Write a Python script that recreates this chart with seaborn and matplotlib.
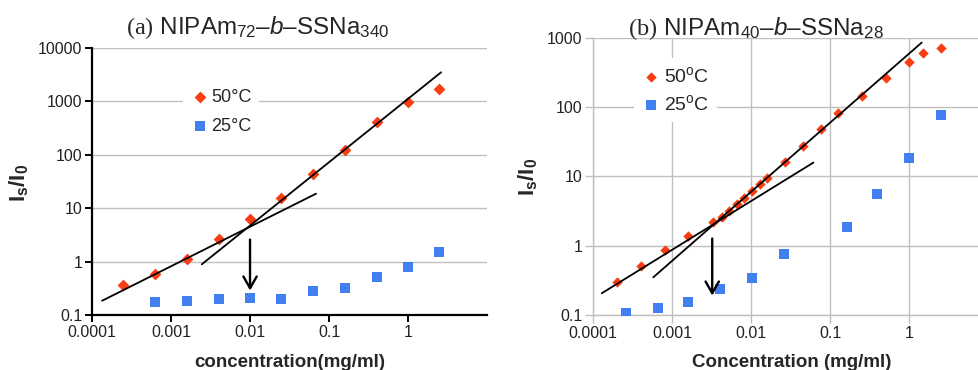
import numpy as np
import pandas as pd
import matplotlib
matplotlib.use("Agg")
import matplotlib.pyplot as plt
import seaborn as sns

# ---------------- data ----------------
# Panel (a) NIPAm72-b-SSNa340
a_hot_conc = [0.00025, 0.00063, 0.0016, 0.004, 0.01, 0.025, 0.063, 0.16, 0.4, 1.0, 2.5]
a_hot_val = [0.36, 0.59, 1.13, 2.6, 6.3, 15.7, 44, 124, 410, 960, 1730]
a_cold_conc = [0.00063, 0.0016, 0.004, 0.01, 0.025, 0.063, 0.16, 0.4, 1.0, 2.5]
a_cold_val = [0.178, 0.18, 0.2, 0.205, 0.2, 0.28, 0.32, 0.51, 0.79, 1.5]
a_fit1_x = [0.000134, 0.0684]
a_fit1_y = [0.185, 18.7]
a_fit2_x = [0.00245, 2.62]
a_fit2_y = [0.89, 3510]
a_cac_x = 0.01
a_arrow_y = [2.92, 0.255]

# Panel (b) NIPAm40-b-SSNa28
b_hot_conc = [0.0002, 0.0004, 0.0008, 0.0016, 0.0033, 0.0042, 0.0052, 0.0065,
              0.0081, 0.0102, 0.0128, 0.016, 0.027, 0.045, 0.076, 0.126, 0.25,
              0.5, 1.0, 1.5, 2.5]
b_hot_val = [0.30, 0.51, 0.87, 1.38, 2.18, 2.57, 3.2, 3.96, 4.9, 6.2, 7.85, 9.4,
             16.3, 27.5, 49, 81, 146, 265, 452, 603, 705]
b_cold_conc = [0.00026, 0.00065, 0.0016, 0.004, 0.0102, 0.0257, 0.163, 0.39, 1.0, 2.5]
b_cold_val = [0.108, 0.126, 0.154, 0.237, 0.346, 0.77, 1.86, 5.5, 18.2, 76]
b_fit1_x = [0.000128, 0.061]
b_fit1_y = [0.206, 15.8]
b_fit2_x = [0.000575, 1.43]
b_fit2_y = [0.35, 850]
b_cac_x = 0.0032
b_arrow_y = [1.39, 0.174]

x_ticks = [0.0001, 0.001, 0.01, 0.1, 1]
x_tick_labels = ["0.0001", "0.001", "0.01", "0.1", "1"]
a_y_ticks = [0.1, 1, 10, 100, 1000, 10000]
a_y_tick_labels = ["0.1", "1", "10", "100", "1000", "10000"]
b_y_ticks = [0.1, 1, 10, 100, 1000]
b_y_tick_labels = ["0.1", "1", "10", "100", "1000"]

RED = "#FA3C12"
BLUE = "#4280F2"
GRID = "#BFBFBF"

sns.set_theme(style="white")
plt.rcParams["font.family"] = ["Liberation Sans", "DejaVu Sans"]
plt.rcParams["mathtext.fontset"] = "custom"
plt.rcParams["mathtext.rm"] = "Liberation Serif"
plt.rcParams["mathtext.sf"] = "Liberation Sans"
plt.rcParams["mathtext.it"] = "Liberation Sans:italic"
plt.rcParams["mathtext.bf"] = "Liberation Sans:bold"

fig = plt.figure(figsize=(9.79, 3.70), dpi=100)
ax1 = fig.add_axes([0.094, 0.1486, 0.4035, 0.7216])
ax2 = fig.add_axes([0.606, 0.1486, 0.394, 0.7495])

dfa_hot = pd.DataFrame({"c": a_hot_conc, "v": a_hot_val})
dfa_cold = pd.DataFrame({"c": a_cold_conc, "v": a_cold_val})
dfb_hot = pd.DataFrame({"c": b_hot_conc, "v": b_hot_val})
dfb_cold = pd.DataFrame({"c": b_cold_conc, "v": b_cold_val})

# ---- panel a ----
ax = ax1
ax.set_xscale("log")
ax.set_yscale("log")
sns.scatterplot(data=dfa_hot, x="c", y="v", ax=ax, marker="D", s=36, color=RED,
                linewidth=0, label="50°C", zorder=3)
sns.scatterplot(data=dfa_cold, x="c", y="v", ax=ax, marker="s", s=55, color=BLUE,
                linewidth=0, label="25°C", zorder=3)
ax.plot(a_fit1_x, a_fit1_y, color="black", lw=1.3, zorder=4)
ax.plot(a_fit2_x, a_fit2_y, color="black", lw=1.3, zorder=4)
ax.annotate("", xy=(a_cac_x, a_arrow_y[1]), xytext=(a_cac_x, a_arrow_y[0]),
            arrowprops=dict(arrowstyle="->,head_length=0.7,head_width=0.4",
                            color="black", lw=1.7), zorder=5)
ax.set_xlim(1e-4, 10)
ax.set_ylim(0.1, 10000)
ax.set_xticks(x_ticks)
ax.set_xticklabels(x_tick_labels)
ax.set_yticks(a_y_ticks)
ax.set_yticklabels(a_y_tick_labels)
ax.minorticks_off()
ax.yaxis.grid(True, color=GRID, lw=1)
ax.xaxis.grid(False)
ax.set_axisbelow(True)
for s in ["top", "right"]:
    ax.spines[s].set_visible(False)
for s in ["left", "bottom"]:
    ax.spines[s].set_color("black")
    ax.spines[s].set_linewidth(1.6)
ax.tick_params(axis="both", which="major", direction="out", length=5, width=1.4,
               color="black", labelsize=11.5, labelcolor="#222222", pad=2,
               bottom=True, left=True)
ax.set_xlabel("concentration(mg/ml)", fontsize=13.5, fontweight="bold")
ax.set_ylabel(r"$\mathbf{I_s/I_0}$", fontsize=16)
ax.xaxis.set_label_coords(0.501, -0.145)
ax.yaxis.set_label_coords(-0.154, 0.494)
leg = ax.legend(loc="center", bbox_to_anchor=(0.327, 0.761), frameon=True,
                facecolor="white", edgecolor="none", framealpha=1, fontsize=13,
                handletextpad=0.15, borderpad=0.4, borderaxespad=0, labelspacing=0.7,
                handlelength=1.0, markerscale=1.0)
leg.get_frame().set_boxstyle("square", pad=0)
leg.set_zorder(2)

# ---- panel b ----
ax = ax2
ax.set_xscale("log")
ax.set_yscale("log")
sns.scatterplot(data=dfb_hot, x="c", y="v", ax=ax, marker="D", s=28, color=RED,
                linewidth=0, label=r"50$^{\mathsf{o}}$C", zorder=3)
sns.scatterplot(data=dfb_cold, x="c", y="v", ax=ax, marker="s", s=55, color=BLUE,
                linewidth=0, label=r"25$^{\mathsf{o}}$C", zorder=3)
ax.plot(b_fit1_x, b_fit1_y, color="black", lw=1.3, zorder=4)
ax.plot(b_fit2_x, b_fit2_y, color="black", lw=1.3, zorder=4)
ax.annotate("", xy=(b_cac_x, b_arrow_y[1]), xytext=(b_cac_x, b_arrow_y[0]),
            arrowprops=dict(arrowstyle="->,head_length=0.7,head_width=0.4",
                            color="black", lw=1.7), zorder=5)
ax.set_xlim(1e-4, 7.6)
ax.set_ylim(0.1, 1000)
ax.set_xticks(x_ticks)
ax.set_xticklabels(x_tick_labels)
ax.set_yticks(b_y_ticks)
ax.set_yticklabels(b_y_tick_labels)
ax.minorticks_off()
ax.grid(True, color=GRID, lw=1)
ax.set_axisbelow(True)
for s in ["top", "right"]:
    ax.spines[s].set_visible(False)
for s in ["left", "bottom"]:
    ax.spines[s].set_color(GRID)
    ax.spines[s].set_linewidth(1.0)
ax.tick_params(axis="both", which="major", direction="out", length=6, width=1.0,
               color=GRID, labelsize=11.5, labelcolor="#222222", pad=2,
               bottom=True, left=True)
ax.set_xlabel("Concentration (mg/ml)", fontsize=13.5, fontweight="bold")
ax.set_ylabel(r"$\mathbf{I_s/I_0}$", fontsize=16)
ax.xaxis.set_label_coords(0.515, -0.14)
ax.yaxis.set_label_coords(-0.139, 0.498)
leg = ax.legend(loc="center", bbox_to_anchor=(0.213, 0.811), frameon=True,
                facecolor="white", edgecolor="none", framealpha=1, fontsize=14,
                handletextpad=0.15, borderpad=0.4, borderaxespad=0, labelspacing=0.45,
                handlelength=1.0, markerscale=1.0)
leg.get_frame().set_boxstyle("square", pad=0)
leg.set_zorder(2)

# titles
fig.text(258 / 979, 1 - 28 / 370,
         r"$\mathrm{(a)}$ NIPAm$_{\mathsf{72}}$–$\it{b}$–SSNa$_{\mathsf{340}}$",
         ha="center", va="center", fontsize=17.5)
fig.text(756 / 979, 1 - 29 / 370,
         r"$\mathrm{(b)}$ NIPAm$_{\mathsf{40}}$–$\it{b}$–SSNa$_{\mathsf{28}}$",
         ha="center", va="center", fontsize=17.5)

fig.savefig("out.png", dpi=100)
